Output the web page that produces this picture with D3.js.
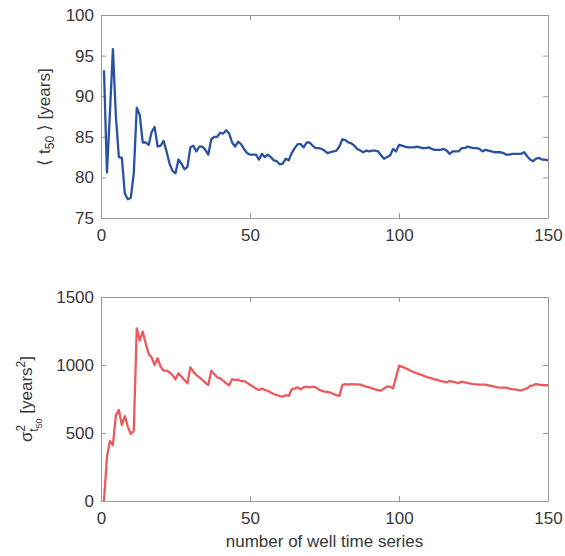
<!DOCTYPE html>
<html>
<head>
<meta charset="utf-8">
<script src="https://cdn.jsdelivr.net/npm/d3@7"></script>
<style>
  body { margin: 0; background: #fff; }
  svg text { font-family: "Liberation Sans", Arial, sans-serif; }
</style>
</head>
<body>
<div id="chart"></div>
<script>
// number of well time series used (x for both panels)
var wellCount = d3.range(1, 151);

// running mean of t50 [years]
var meanT50 = [
  93.2, 80.6, 88.0, 95.8, 87.5, 82.5, 82.4, 78.0, 77.3, 77.5,
  80.5, 88.6, 87.7, 84.3, 84.3, 84.0, 85.6, 86.2, 83.8, 83.9,
  84.5, 83.2, 81.7, 80.8, 80.5, 82.2, 81.7, 81.0, 81.3, 83.7,
  83.9, 83.2, 83.8, 83.8, 83.4, 82.8, 84.7, 85.0, 85.0, 85.5,
  85.4, 85.8, 85.4, 84.3, 83.8, 84.4, 84.1, 83.5, 83.0, 82.8,
  82.8, 82.8, 82.2, 82.9, 82.5, 82.8, 82.5, 82.1, 82.0, 81.6,
  81.7, 82.3, 82.1, 83.0, 83.6, 84.1, 84.1, 83.7, 84.3, 84.3,
  83.9, 83.6, 83.6, 83.5, 83.3, 83.0, 83.1, 83.2, 83.3, 83.8,
  84.7, 84.6, 84.3, 84.2, 83.9, 83.5, 83.3, 83.1, 83.3, 83.2,
  83.3, 83.3, 83.2, 82.7, 82.3, 82.5, 82.7, 83.5, 83.2, 84.0,
  83.9, 83.8, 83.7, 83.7, 83.7, 83.8, 83.7, 83.6, 83.6, 83.7,
  83.5, 83.4, 83.4, 83.4, 83.5, 83.3, 82.9, 83.2, 83.2, 83.2,
  83.6, 83.6, 83.8, 83.7, 83.6, 83.6, 83.5, 83.2, 83.4, 83.3,
  83.2, 83.1, 83.1, 83.1, 83.0, 82.8, 82.8, 82.9, 82.9, 82.9,
  82.9, 83.1, 82.6, 82.2, 82.0, 82.3, 82.4, 82.2, 82.2, 82.1
];

// running variance of t50 [years^2]
var varT50 = [
  0, 326, 441, 412, 632, 669, 559, 625, 547, 493,
  517, 1270, 1179, 1245, 1159, 1081, 1056, 1000, 1049, 988,
  958, 958, 946, 926, 895, 939, 914, 890, 865, 983,
  951, 926, 909, 890, 870, 853, 958, 934, 909, 902,
  885, 865, 851, 895, 890, 892, 882, 882, 870, 855,
  841, 826, 816, 826, 816, 809, 797, 787, 779, 772,
  767, 779, 772, 821, 828, 836, 821, 836, 841, 836,
  841, 836, 821, 811, 804, 802, 797, 787, 779, 772,
  853, 860, 855, 860, 858, 858, 855, 848, 841, 836,
  828, 821, 816, 811, 828, 841, 841, 828, 909, 993,
  988, 978, 968, 956, 948, 939, 931, 924, 914, 907,
  902, 895, 890, 882, 878, 873, 882, 878, 873, 865,
  878, 873, 868, 863, 860, 858, 855, 855, 855, 851,
  846, 841, 836, 834, 834, 834, 826, 821, 821, 816,
  814, 821, 828, 846, 851, 860, 855, 853, 851, 851
];

var xTicks = [0, 50, 100, 150];
var meanTicks = [75, 80, 85, 90, 95, 100];
var varTicks = [0, 500, 1000, 1500];

var width = 565, height = 556;
var axisColor = "#9a9a9a";
var textColor = "#383838";
var fontSize = 17;

var svg = d3.select("#chart").append("svg")
    .attr("width", width)
    .attr("height", height);

svg.append("rect").attr("width", width).attr("height", height).attr("fill", "#fff");

var x = d3.scaleLinear().domain([0, 150]).range([101, 548]);

function drawPanel(values, yDomain, yTicks, top, bottom, color) {
    var y = d3.scaleLinear().domain(yDomain).range([bottom, top]);
    var g = svg.append("g");

    // axes, ticks point inward on all four sides
    var xb = g.append("g")
        .attr("transform", "translate(0," + bottom + ")")
        .call(d3.axisBottom(x).tickValues(xTicks).tickFormat(d3.format("d"))
            .tickSizeInner(-5).tickSizeOuter(0).tickPadding(11));
    var xt = g.append("g")
        .attr("transform", "translate(0," + top + ")")
        .call(d3.axisTop(x).tickValues(xTicks).tickSizeInner(-5).tickSizeOuter(0).tickFormat(""));
    var yl = g.append("g")
        .attr("transform", "translate(" + x(0) + ",0)")
        .call(d3.axisLeft(y).tickValues(yTicks).tickFormat(d3.format("d"))
            .tickSizeInner(-5).tickSizeOuter(0).tickPadding(7));
    var yr = g.append("g")
        .attr("transform", "translate(" + x(150) + ",0)")
        .call(d3.axisRight(y).tickValues(yTicks).tickSizeInner(-5).tickSizeOuter(0).tickFormat(""));

    [xb, xt, yl, yr].forEach(function(a) {
        a.selectAll("path, line").attr("stroke", axisColor);
        a.selectAll("text").attr("fill", textColor).style("font-size", fontSize + "px");
    });

    var line = d3.line()
        .x(function(d, i) { return x(wellCount[i]); })
        .y(function(d) { return y(d); });

    g.append("path")
        .datum(values)
        .attr("fill", "none")
        .attr("stroke", color)
        .attr("stroke-width", 2.3)
        .attr("stroke-linejoin", "round")
        .attr("d", line);

    return y;
}

drawPanel(meanT50, [75, 100], meanTicks, 15, 218, "#2a52a3");
drawPanel(varT50, [0, 1500], varTicks, 297, 501, "#ea5a5e");

// y label, top: < t50 > [years]
var yl1 = svg.append("text")
    .attr("transform", "translate(50,117) rotate(-90)")
    .attr("text-anchor", "middle")
    .attr("fill", textColor)
    .style("font-size", fontSize + "px");
yl1.append("tspan").text("\u27E8 t");
yl1.append("tspan").attr("dy", 4).style("font-size", "12px").text("50");
yl1.append("tspan").attr("dy", -4).text(" \u27E9 [years]");

// y label, bottom: sigma^2_{t_50} [years^2]
var yl2 = svg.append("text")
    .attr("transform", "translate(32,399) rotate(-90)")
    .attr("text-anchor", "middle")
    .attr("fill", textColor)
    .style("font-size", fontSize + "px");
yl2.append("tspan").text("\u03C3");
yl2.append("tspan").attr("dy", -7).style("font-size", "12px").text("2");
yl2.append("tspan").attr("dx", -7).attr("dy", 13).style("font-size", "12px").text("t");
yl2.append("tspan").attr("dy", 4).style("font-size", "9px").text("50");
yl2.append("tspan").attr("dy", -10).text("  [years");
yl2.append("tspan").attr("dy", -7).style("font-size", "12px").text("2");
yl2.append("tspan").attr("dy", 7).text("]");

// x label
svg.append("text")
    .attr("x", (x(0) + x(150)) / 2)
    .attr("y", 547)
    .attr("text-anchor", "middle")
    .attr("fill", textColor)
    .style("font-size", fontSize + "px")
    .text("number of well time series");
</script>
</body>
</html>
